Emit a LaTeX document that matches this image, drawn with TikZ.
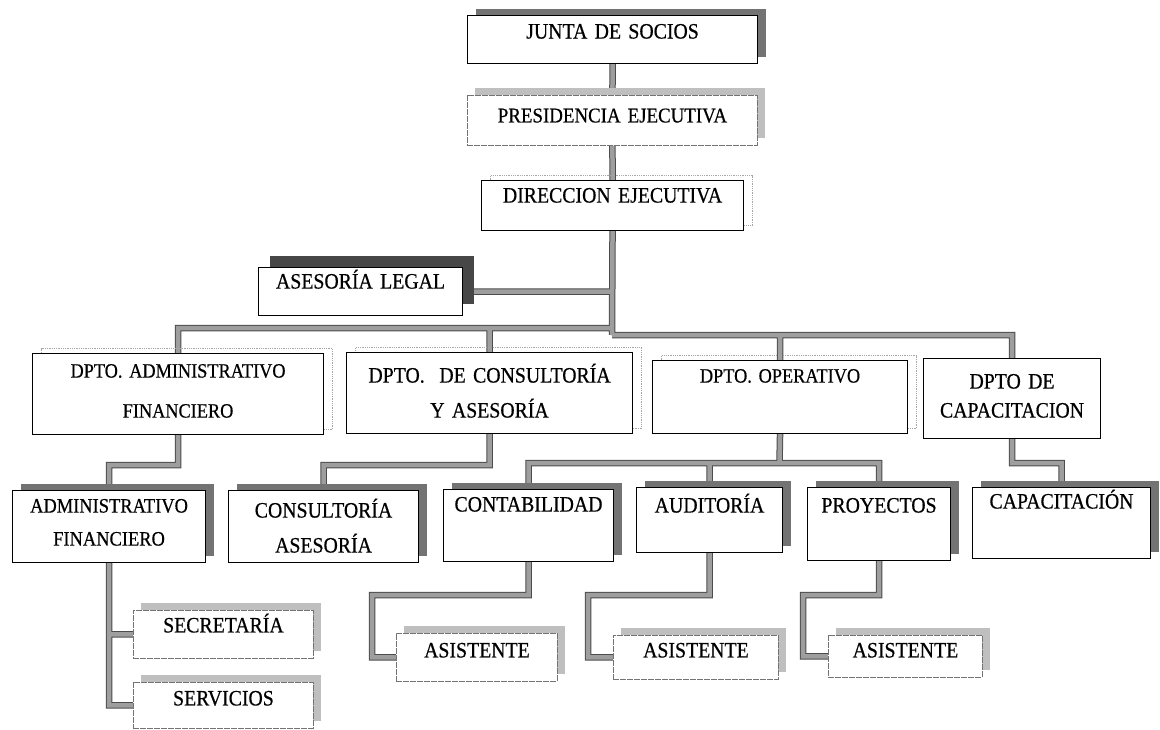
\documentclass[tikz,border=0pt]{standalone}
\usepackage{fontspec}
\setmainfont{Liberation Serif}[FakeStretch=0.9,FakeBold=0.5]
\usetikzlibrary{shadows,backgrounds}

\begin{document}
\begin{tikzpicture}[x=1pt,y=-1pt]
\tikzset{
  orgbox/.style={anchor=north west,draw,line width=1.1pt,fill=white,inner xsep=0pt,inner ysep=4pt,
    align=center,font=\fontsize{22}{34}\selectfont},
  boxdim/.style n args={3}{text width=#1pt,text height=#2pt,text depth=#3pt},
  softbox/.style={draw=black!55,line width=0.9pt,dash pattern=on 6pt off 1pt},
  darkshade/.style={general shadow={fill=black!55,shadow xshift=8pt,shadow yshift=7pt}},
  deepshade/.style={general shadow={fill=black!72,shadow xshift=11pt,shadow yshift=12pt}},
  lightshade/.style={general shadow={fill=black!25,shadow xshift=8pt,shadow yshift=7pt}},
  dotshade/.style={general shadow={draw=black!35,densely dotted,line width=0.8pt,shadow xshift=9pt,shadow yshift=5pt}},
  linkout/.style={line width=6.5pt,draw=black!70},
  linkin/.style={line width=4.5pt,draw=black!38}
}
\useasboundingbox (0,0) rectangle (1160,729);
% top of the chart
\node[orgbox,darkshade,boxdim={290}{19}{21}] (junta) at (467,15) {JUNTA DE SOCIOS};
\node[orgbox,softbox,lightshade,boxdim={290}{23}{19},font=\fontsize{21}{30}\selectfont] (pres) at (467,95) {PRESIDENCIA EJECUTIVA};
\node[orgbox,dotshade,boxdim={262}{18}{24}] (dir) at (481,180) {DIRECCION EJECUTIVA};
\node[orgbox,deepshade,boxdim={204}{17}{23}] (legal) at (258,267) {ASESORÍA LEGAL};
% departments
\node[orgbox,dotshade,boxdim={291}{20}{53},font=\fontsize{20.3}{40}\selectfont] (dadm) at (32,353) {DPTO. ADMINISTRATIVO\\FINANCIERO};
\node[orgbox,dotshade,boxdim={286}{26}{47},font=\fontsize{22}{35}\selectfont] (dcon) at (346,352) {DPTO.\ \ DE CONSULTORÍA\\Y ASESORÍA};
\node[orgbox,dotshade,boxdim={255}{18}{47},font=\fontsize{20.3}{40}\selectfont] (dop) at (652,360) {DPTO. OPERATIVO};
\node[orgbox,boxdim={177}{26}{46},font=\fontsize{22}{29}\selectfont] (dcap) at (923,358) {DPTO DE\\CAPACITACION};
% units
\node[orgbox,darkshade,boxdim={193}{18}{46},font=\fontsize{20.5}{33}\selectfont] (adf) at (12,490) {ADMINISTRATIVO\\FINANCIERO};
\node[orgbox,darkshade,boxdim={190}{23}{41},font=\fontsize{22}{35}\selectfont] (cas) at (228,490) {CONSULTORÍA\\ASESORÍA};
\node[orgbox,darkshade,boxdim={170}{18}{46}] (cont) at (443,489) {CONTABILIDAD};
\node[orgbox,darkshade,boxdim={146}{21}{36}] (aud) at (636,487) {AUDITORÍA};
\node[orgbox,darkshade,boxdim={143}{21}{44}] (proy) at (807,487) {PROYECTOS};
\node[orgbox,darkshade,boxdim={178}{17}{46}] (capa) at (972,487) {CAPACITACIÓN};
% staff
\node[orgbox,softbox,lightshade,boxdim={180}{18}{22}] (sec) at (133,610) {SECRETARÍA};
\node[orgbox,softbox,lightshade,boxdim={180}{19}{19}] (serv) at (133,682) {SERVICIOS};
\node[orgbox,softbox,lightshade,boxdim={161}{20}{20}] (as1) at (396,633) {ASISTENTE};
\node[orgbox,softbox,lightshade,boxdim={165}{18}{18}] (as2) at (613,635) {ASISTENTE};
\node[orgbox,softbox,lightshade,boxdim={154}{18}{16}] (as3) at (828,635) {ASISTENTE};
\coordinate (busL) at (612,328);
\coordinate (busR) at (612,335);
\coordinate (opbus) at (779.5,463);
\begin{scope}[on background layer]
\foreach \s in {linkout,linkin}{
  \draw[\s] (junta) -- (pres) (pres) -- (dir) (dir.south) -- (busR)
    (legal.east) -- (legal.east -| busR)
    (dadm.north) |- (busL) (dcon.north) |- (busL)
    (dop.north) |- (busR) (dcap.north) |- (busR)
    (dadm.south) -- (dadm.south |- 0,465) -| (adf.north)
    (dcon.south) -- (dcon.south |- 0,465) -| (cas.north)
    (dop.south) -- (opbus)
    (cont.north) |- (opbus) (aud.north) |- (opbus) (proy.north) |- (opbus)
    (dcap.south) -- (dcap.south |- 0,463) -| (capa.north)
    (adf.south) |- (sec.west) (adf.south) |- (serv.west)
    (cont.south) -- (cont.south |- 0,595) -| ([xshift=-24pt]as1.west) -- (as1.west)
    (aud.south) -- (aud.south |- 0,595) -| ([xshift=-25pt]as2.west) -- (as2.west)
    (proy.south) -- (proy.south |- 0,595) -| ([xshift=-25pt]as3.west) -- (as3.west);
}
\end{scope}
\end{tikzpicture}
\end{document}
